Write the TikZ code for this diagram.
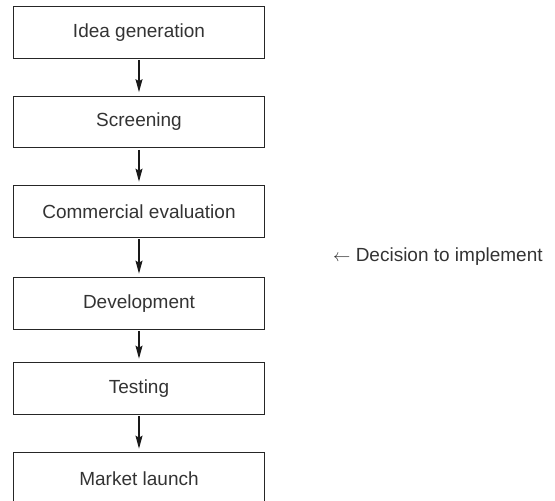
\documentclass[tikz,border=0pt]{standalone}
\usepackage{fontspec}
\setmainfont{Liberation Sans}
\usepackage{tikz}
\usetikzlibrary{arrows.meta}

\tikzset{
	stagebox/.style={draw=black!85,line width=1.2pt,minimum width=251.5pt,minimum height=51.5pt,inner sep=0pt,text=black!80,font=\fontsize{19}{23}\selectfont},
	flowarr/.style={-{Stealth[length=13pt,width=7pt,inset=2pt]},line width=1.2pt,black!90,shorten <=1.5pt,shorten >=3.5pt}
}

\begin{document}
\begin{tikzpicture}[x=1pt,y=-1pt]
		\useasboundingbox (0,0) rectangle (555,501);
		\node[stagebox] (idea) at (139,32.5) {Idea generation};
		\node[stagebox] (screen) at (139,122) {Screening};
		\node[stagebox] (comm) at (139,211.5) {Commercial evaluation};
		\node[stagebox] (devel) at (139,303.5) {Development};
		\node[stagebox] (test) at (139,388.5) {Testing};
		\node[stagebox] (launch) at (139,478.5) {Market launch};
		\draw[flowarr] (idea) -- (screen);
		\draw[flowarr] (screen) -- (comm);
		\draw[flowarr] (comm) -- (devel);
		\draw[flowarr] (devel) -- (test);
		\draw[flowarr] (test) -- (launch);
		\node[anchor=west,inner sep=0pt,text=black!80,font=\fontsize{19}{23}\selectfont] (decide) at (333,257) {$\leftarrow$ Decision to implement};
	\end{tikzpicture}
\end{document}
